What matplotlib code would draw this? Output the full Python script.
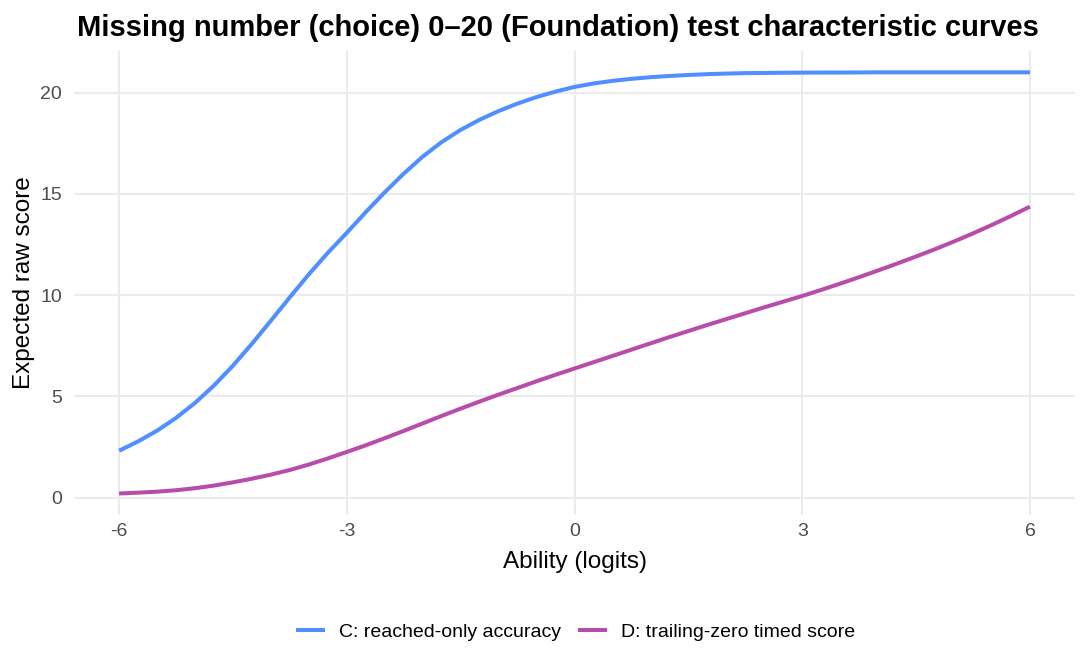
import matplotlib
matplotlib.use("Agg")
import matplotlib.pyplot as plt

plt.rcParams['font.family'] = ['Liberation Sans', 'DejaVu Sans']

title = "Missing number (choice) 0\u201320 (Foundation) test characteristic curves"
x_label = "Ability (logits)"
y_label = "Expected raw score"
series_names = ["C: reached-only accuracy", "D: trailing-zero timed score"]
series_colors = ["#4F8FFF", "#B84CAA"]

ability = [-6, -5.75, -5.5, -5.25, -5, -4.75, -4.5, -4.25, -4, -3.75, -3.5, -3.25,
           -3, -2.75, -2.5, -2.25, -2, -1.75, -1.5, -1.25, -1, -0.75, -0.5, -0.25,
           0, 0.25, 0.5, 0.75, 1, 1.25, 1.5, 1.75, 2, 2.25, 2.5, 2.75,
           3, 3.25, 3.5, 3.75, 4, 4.25, 4.5, 4.75, 5, 5.25, 5.5, 5.75, 6]
score_c = [2.32, 2.78, 3.31, 3.94, 4.68, 5.54, 6.52, 7.6, 8.74, 9.9, 11.03, 12.09,
           13.08, 14.1, 15.08, 16.0, 16.84, 17.56, 18.16, 18.66, 19.09, 19.46, 19.78, 20.05,
           20.28, 20.45, 20.58, 20.68, 20.76, 20.82, 20.87, 20.91, 20.94, 20.96, 20.97, 20.98,
           20.985, 20.99, 20.99, 20.995, 21.0, 21.0, 21.0, 21.0, 21.0, 21.0, 21.0, 21.0, 21.0]
score_d = [0.21, 0.25, 0.30, 0.37, 0.47, 0.60, 0.76, 0.94, 1.14, 1.37, 1.64, 1.94,
           2.26, 2.59, 2.94, 3.30, 3.67, 4.04, 4.40, 4.75, 5.09, 5.42, 5.75, 6.07,
           6.38, 6.69, 7.0, 7.31, 7.62, 7.93, 8.23, 8.53, 8.82, 9.11, 9.4, 9.68,
           9.96, 10.26, 10.57, 10.89, 11.22, 11.56, 11.91, 12.27, 12.65, 13.05, 13.47, 13.91, 14.37]

x_ticks = [-6, -3, 0, 3, 6]
y_ticks = [0, 5, 10, 15, 20]

fig = plt.figure(figsize=(10.88, 6.72), dpi=100)
ax = fig.add_axes([0.0676, 0.234, 0.9885 - 0.0676, 0.9237 - 0.234])

for ys, name, col in zip([score_c, score_d], series_names, series_colors):
    ax.plot(ability, ys, color=col, lw=2.9, label=name,
            solid_capstyle='butt', solid_joinstyle='round')

ax.set_xlim(-6.6, 6.6)
ax.set_ylim(-0.84, 22.04)
ax.set_xticks(x_ticks)
ax.set_xticklabels([str(t) for t in x_ticks])
ax.set_yticks(y_ticks)
ax.grid(True, color='#EBEBEB', lw=1.5)
ax.set_axisbelow(True)
for s in ax.spines.values():
    s.set_visible(False)
ax.tick_params(length=0, labelsize=14, labelcolor='#4D4D4D')
ax.tick_params(axis='x', pad=5.6)
ax.tick_params(axis='y', pad=8.3)

ax.set_xlabel(x_label, fontsize=17.5, labelpad=8.5)
ax.set_ylabel(y_label, fontsize=17.5, labelpad=3.5)
fig.text(0.5124, 1 - 36 / 672, title, fontsize=21, fontweight='bold',
         ha='center', va='baseline')

fig.legend(loc='center', bbox_to_anchor=(0.529, 0.059), ncol=2, frameon=False,
           fontsize=14, handlelength=1.5, columnspacing=0.87, handletextpad=0.7)

fig.savefig("out.png", dpi=100, facecolor='white')
